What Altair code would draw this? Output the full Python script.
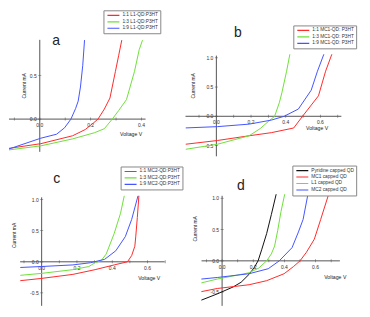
import altair as alt
import pandas as pd

FONT = "Liberation Sans"
W, H = 177, 150
SX, SY = W / 185.0, H / 158.5
RED, GREEN, BLUE, BLACK = "#ff2b2b", "#6fe03a", "#4455ff", "#111111"
AXC = "#555555"

# ---------------- data ----------------
# Panel a
a_names = ["1:1 L1-QD:P3HT", "1:3 L1-QD:P3HT", "1:9 L1-QD:P3HT"]
a_colors = [RED, GREEN, BLUE]
a_x1 = [-0.121, 0.004, 0.129, 0.179, 0.21, 0.229, 0.254, 0.276, 0.2975, 0.31, 0.3225]
a_y1 = [-0.337, -0.283, -0.192, -0.12, -0.047, 0.0, 0.116, 0.243, 0.55, 0.73, 0.91]
a_x3 = [-0.121, 0.004, 0.129, 0.216, 0.254, 0.285, 0.31, 0.341, 0.3725, 0.391, 0.404]
a_y3 = [-0.355, -0.308, -0.228, -0.156, -0.11, 0.0, 0.098, 0.225, 0.55, 0.80, 0.91]
a_x9 = [-0.121, 0.004, 0.066, 0.0975, 0.1225, 0.141, 0.151, 0.16, 0.169, 0.176]
a_y9 = [-0.344, -0.22, -0.174, -0.10, 0.0, 0.123, 0.207, 0.37, 0.62, 0.91]

# Panel b
b_names = ["1:1 MC1-QD: P3HT", "1:3 MC1-QD: P3HT", "1:9 MC1-QD: P3HT"]
b_colors = [RED, GREEN, BLUE]
b_x1 = [-0.178, 0.0055, 0.189, 0.317, 0.446, 0.497, 0.589, 0.63, 0.666]
b_y1 = [-0.478, -0.414, -0.333, -0.28, -0.2, 0.0, 0.35, 0.77, 1.06]
b_x3 = [-0.178, 0.0055, 0.189, 0.253, 0.299, 0.336, 0.363, 0.378, 0.405, 0.424]
b_y3 = [-0.565, -0.478, -0.333, -0.21, -0.091, 0.0, 0.231, 0.403, 0.77, 1.06]
b_x9 = [-0.178, 0.0055, 0.189, 0.317, 0.391, 0.473, 0.547, 0.583, 0.62]
b_y9 = [-0.199, -0.177, -0.134, -0.065, 0.0, 0.124, 0.446, 0.77, 1.06]

# Panel c
c_names = ["1:1 MC2-QD:P3HT", "1:3 MC2-QD:P3HT", "1:9 MC2-QD:P3HT"]
c_colors = [RED, GREEN, BLUE]
c_x1 = [-0.121, -0.004, 0.177, 0.303, 0.411, 0.486, 0.51, 0.528, 0.533, 0.542, 0.551]
c_y1 = [-0.303, -0.268, -0.202, -0.126, -0.05, 0.0, 0.1, 0.25, 0.40, 0.71, 1.06]
c_x3 = [-0.121, -0.004, 0.177, 0.267, 0.303, 0.339, 0.366, 0.411, 0.447, 0.468]
c_y3 = [-0.217, -0.187, -0.126, -0.076, -0.015, 0.025, 0.126, 0.455, 0.78, 1.06]
c_x9 = [-0.121, -0.004, 0.177, 0.276, 0.357, 0.42, 0.474, 0.51, 0.546]
c_y9 = [-0.091, -0.076, -0.05, -0.015, 0.04, 0.177, 0.404, 0.68, 1.06]

# Panel d
d_names = ["Pyridine capped QD", "MC1 capped QD", "L1 capped QD", "MC2 capped QD"]
d_colors = [BLACK, RED, GREEN, BLUE]
d_xp = [-0.133, -0.031, 0.071, 0.122, 0.173, 0.204, 0.231, 0.255, 0.286, 0.316, 0.347]
d_yp = [-0.628, -0.528, -0.417, -0.342, -0.216, -0.116, 0.0, 0.186, 0.437, 0.739, 1.065]
d_xm1 = [-0.133, -0.031, 0.173, 0.286, 0.398, 0.459, 0.5, 0.541, 0.592, 0.633, 0.684]
d_ym1 = [-0.492, -0.442, -0.382, -0.317, -0.206, -0.09, 0.0, 0.136, 0.347, 0.663, 1.065]
d_xl1 = [-0.133, -0.031, 0.071, 0.173, 0.235, 0.286, 0.316, 0.337, 0.357, 0.378, 0.402]
d_yl1 = [-0.352, -0.291, -0.241, -0.191, -0.116, 0.0, 0.111, 0.236, 0.487, 0.789, 1.065]
d_xm2 = [-0.133, -0.031, 0.173, 0.296, 0.367, 0.449, 0.49, 0.52, 0.551]
d_ym2 = [-0.291, -0.266, -0.206, -0.126, 0.0, 0.211, 0.462, 0.663, 1.065]

# tick values / labels
a_xlabels = [0.0, 0.2, 0.4]
a_xminor = [-0.1, 0.0, 0.1, 0.2, 0.3, 0.4]
a_ylabels = [0.0, 0.5]
bcd_xlabels = [0.0, 0.2, 0.4, 0.6]
bcd_xminor = [-0.1, 0.0, 0.1, 0.2, 0.3, 0.4, 0.5, 0.6, 0.7]
bcd_ylabels = [-0.5, 0.0, 0.5, 1.0]


def series_df(names, xs, ys):
    rows = []
    for n, xx, yy in zip(names, xs, ys):
        for i, (x, y) in enumerate(zip(xx, yy)):
            rows.append({"x": x, "y": y, "s": n, "i": i})
    return pd.DataFrame(rows)


def panel(letter, names, colors, xs, ys, xdom, ydom, xaxis, yaxis,
          xlabels, xminor, ylabels, legxy, letter_xy, cur_xy, volt_xy):
    xsc = alt.Scale(domain=xdom, nice=False, zero=False)
    ysc = alt.Scale(domain=ydom, nice=False, zero=False)

    def X(f):
        return alt.X(f, type="quantitative", scale=xsc, axis=None)

    def Y(f):
        return alt.Y(f, type="quantitative", scale=ysc, axis=None)

    axes = pd.DataFrame({"x": [xaxis[0], 0.0], "x2": [xaxis[1], 0.0],
                         "y": [0.0, yaxis[0]], "y2": [0.0, yaxis[1]]})
    axis_layer = alt.Chart(axes).mark_rule(color=AXC, strokeWidth=1).encode(
        x=X("x"), x2="x2", y=Y("y"), y2="y2")

    xt = pd.DataFrame({"v": xminor, "z": 0.0})
    xtick_layer = alt.Chart(xt).mark_tick(orient="vertical", size=3, thickness=0.8,
                                           color=AXC).encode(x=X("v"), y=Y("z"))
    yt = pd.DataFrame({"v": ylabels, "z": 0.0})
    ytick_layer = alt.Chart(yt).mark_tick(orient="horizontal", size=3, thickness=0.8,
                                           color=AXC).encode(y=Y("v"), x=X("z"))

    xl = pd.DataFrame({"v": xlabels, "z": 0.0, "t": [f"{v:.1f}" for v in xlabels]})
    xlab_layer = alt.Chart(xl).mark_text(font=FONT, fontSize=5, dy=6, color="#333",
                                         baseline="middle").encode(
        x=X("v"), y=Y("z"), text="t:N")
    yl = pd.DataFrame({"v": ylabels, "z": 0.0, "t": [f"{v:.1f}" for v in ylabels]})
    ylab_layer = alt.Chart(yl).mark_text(font=FONT, fontSize=5, dx=-3, align="right",
                                         baseline="middle", color="#333").encode(
        x=X("z"), y=Y("v"), text="t:N")

    lines = series_df(names, xs, ys)
    line_layer = alt.Chart(lines).mark_line(strokeWidth=1, clip=True).encode(
        x=X("x"), y=Y("y"), order="i:Q",
        color=alt.Color("s:N", scale=alt.Scale(domain=names, range=colors),
                        legend=alt.Legend(
                            orient="none", legendX=legxy[0] * SX, legendY=legxy[1] * SY,
                            title=None, symbolType="M-1,0H3", symbolSize=36,
                            symbolStrokeWidth=1.2, symbolOffset=1, labelOffset=8,
                            labelFont=FONT, labelFontSize=4.8, labelColor="#333",
                            strokeColor="#888", fillColor="white", padding=2,
                            clipHeight=6, rowPadding=0.5, cornerRadius=0,
                            labelLimit=200)))

    def ptext(t, xy, size, angle=0):
        mk = dict(font=FONT, fontSize=size, color="#222", align="center",
                  baseline="middle")
        if angle:
            mk["angle"] = angle
        return alt.Chart(pd.DataFrame({"t": [t]})).mark_text(**mk).encode(
            text="t:N", x=alt.value(xy[0] * SX), y=alt.value(xy[1] * SY))

    return alt.layer(
        axis_layer, xtick_layer, ytick_layer, xlab_layer, ylab_layer, line_layer,
        ptext(letter, letter_xy, 14),
        ptext("Current mA", cur_xy, 5, 270),
        ptext("Voltage V", volt_xy, 5.2),
    ).properties(width=W, height=H)


pa = panel("a", a_names, a_colors, [a_x1, a_x3, a_x9], [a_y1, a_y3, a_y9],
           [-0.121, 0.573], [-0.448, 1.275], [-0.121, 0.416], [-0.377, 0.913],
           a_xlabels, a_xminor, a_ylabels, (99, 2), (49.3, 35), (16, 82), (128, 133))
pb = panel("b", b_names, b_colors, [b_x1, b_x3, b_x9], [b_y1, b_y3, b_y9],
           [-0.178, 0.840], [-0.713, 1.844], [-0.178, 0.721], [-0.684, 1.037],
           bcd_xlabels, bcd_xminor, bcd_ylabels, (113, 18), (55, 26), (8, 82), (138, 127))
pc = panel("c", c_names, c_colors, [c_x1, c_x3, c_x9], [c_y1, c_y3, c_y9],
           [-0.185, 0.815], [-0.735, 1.667], [-0.122, 0.697], [-0.707, 1.035],
           bcd_xlabels, bcd_xminor, bcd_ylabels, (117, 9), (50, 22), (5, 82), (147, 127))
pd_ = panel("d", d_names, d_colors, [d_xp, d_xm1, d_xl1, d_xm2],
            [d_yp, d_ym1, d_yl1, d_ym2],
            [-0.235, 0.898], [-0.747, 1.644], [-0.132, 0.756], [-0.72, 1.04],
            bcd_xlabels, bcd_xminor, bcd_ylabels, (112, 8), (58, 30), (10, 75), (157, 126))

chart = alt.concat(pa, pb, pc, pd_, columns=2, spacing=0, bounds="flush").resolve_scale(
    x="independent", y="independent", color="independent"
).resolve_legend(color="independent").properties(padding=0).configure_view(stroke=None)

chart.save("out.html", embed_options={"renderer": "svg", "actions": False})
